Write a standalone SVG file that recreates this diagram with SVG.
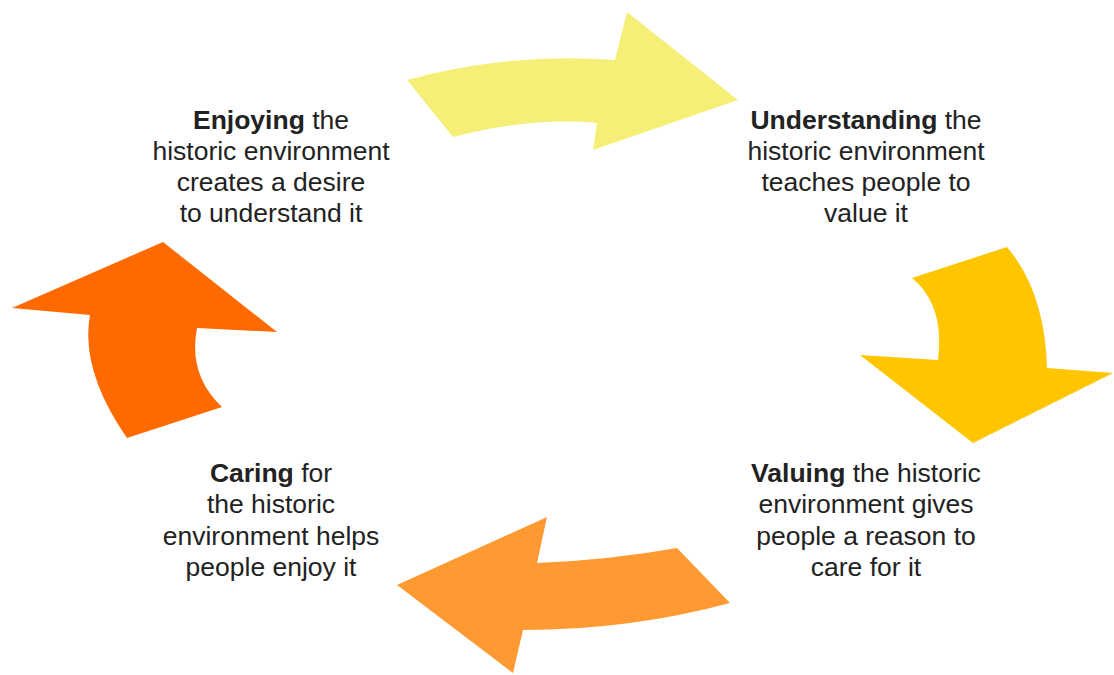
<svg xmlns="http://www.w3.org/2000/svg" width="1114" height="675" viewBox="0 0 1114 675">
<style>
.lbl{font-family:"Liberation Sans",Arial,sans-serif;font-size:26.5px;fill:#222;text-anchor:middle}
.b{font-weight:bold}
</style>
<rect width="1114" height="675" fill="#fff"/>
<g id="connectors">
<path id="arrow-top" fill="#F5EF78" d="M407,80 Q510,52 615,60 L627,12 L738,100 L593,150 L597,123 Q530,117 453,137 Z"/>
<path id="arrow-right" fill="#FFC600" d="M912,278 L1007,247 Q1045,292 1047,368 L1113,373 L973,443 L860,355 L938,360 Q945,305 912,278 Z"/>
<path id="arrow-bottom" fill="#FF9A33" d="M677,548 L730,603 Q630,630 523,630 L513,673 L397,585 L547,517 L537,563 Q610,560 677,548 Z"/>
<path id="arrow-left" fill="#FF6A00" d="M127,438 Q80,370 90,315 L12,308 L163,242 L277,332 L197,328 Q188,375 222,407 Z"/>
</g>
<g id="enjoying">
<text class="lbl" x="271" y="129"><tspan class="b">Enjoying</tspan> the</text>
<text class="lbl" x="271" y="160">historic environment</text>
<text class="lbl" x="271" y="191">creates a desire</text>
<text class="lbl" x="271" y="222">to understand it</text>
</g>
<g id="understanding">
<text class="lbl" x="866" y="129"><tspan class="b">Understanding</tspan> the</text>
<text class="lbl" x="866" y="160">historic environment</text>
<text class="lbl" x="866" y="191">teaches people to</text>
<text class="lbl" x="866" y="222">value it</text>
</g>
<g id="caring">
<text class="lbl" x="271" y="482"><tspan class="b">Caring</tspan> for</text>
<text class="lbl" x="271" y="513">the historic</text>
<text class="lbl" x="271" y="545">environment helps</text>
<text class="lbl" x="271" y="576">people enjoy it</text>
</g>
<g id="valuing">
<text class="lbl" x="866" y="482"><tspan class="b">Valuing</tspan> the historic</text>
<text class="lbl" x="866" y="513">environment gives</text>
<text class="lbl" x="866" y="545">people a reason to</text>
<text class="lbl" x="866" y="576">care for it</text>
</g>
</svg>
